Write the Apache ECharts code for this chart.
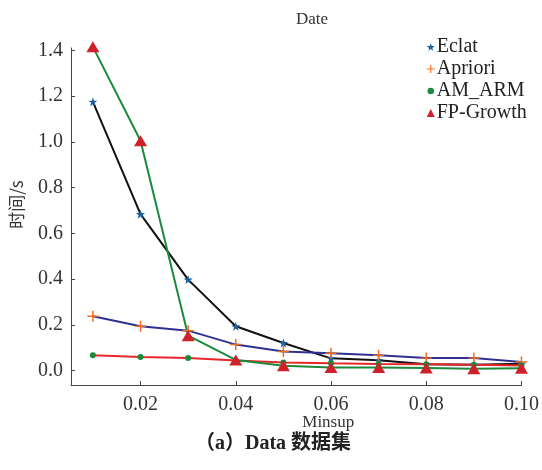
<!DOCTYPE html>
<html style="height: 100%">
<head>
<meta charset="utf-8">
<script src="https://cdn.jsdelivr.net/npm/echarts@6/dist/echarts.min.js"></script>
</head>
<body style="height: 100%; margin: 0">
<div id="container" style="width: 542px; height: 470px"></div>
<script type="text/javascript">
// data
var minsup = [0.01, 0.02, 0.03, 0.04, 0.05, 0.06, 0.07, 0.08, 0.09, 0.10];
var eclat = [1.175, 0.684, 0.398, 0.194, 0.121, 0.054, 0.046, 0.028, 0.026, 0.03];
var apriori = [0.238, 0.194, 0.175, 0.114, 0.084, 0.076, 0.067, 0.055, 0.055, 0.038];
var amArm = [0.067, 0.06, 0.055, 0.045, 0.036, 0.032, 0.029, 0.028, 0.026, 0.023];
var fpGrowth = [1.415, 1.005, 0.153, 0.047, 0.022, 0.014, 0.014, 0.012, 0.009, 0.011];
var xTicks = [0.02, 0.04, 0.06, 0.08, 0.10];
var yTicks = [0, 0.2, 0.4, 0.6, 0.8, 1.0, 1.2, 1.4];

var serif = '"Liberation Serif", "Times New Roman", serif';
var starPath = 'path://M0,-10L2.35,-3.24L9.51,-3.09L3.8,1.24L5.88,8.09L0,4L-5.88,8.09L-3.8,1.24L-9.51,-3.09L-2.35,-3.24Z';
var plusPath = 'path://M-0.8,-6L0.8,-6L0.8,-0.8L6,-0.8L6,0.8L0.8,0.8L0.8,6L-0.8,6L-0.8,0.8L-6,0.8L-6,-0.8L-0.8,-0.8Z';

function pairs(ys) {
	return minsup.map(function(x, i) {
		return [x, ys[i]];
	});
}

var dom = document.getElementById("container");
var myChart = echarts.init(dom);

var option = {
	backgroundColor: '#ffffff',
	animation: false,
	title: [{
		text: 'Date',
		left: 307,
		top: 6,
		textAlign: 'center',
		textStyle: { fontFamily: serif, fontSize: 17, fontWeight: 'normal', color: '#333' }
	}, {
		text: '（a）Data 数据集',
		left: 268,
		top: 429,
		textAlign: 'center',
		textStyle: { fontFamily: serif + ', "Noto Sans CJK SC"', fontSize: 20, fontWeight: 'bold', color: '#222' }
	}],
	legend: {
		orient: 'vertical',
		left: 421,
		top: 32,
		itemWidth: 8,
		itemHeight: 8,
		itemGap: 2,
		textStyle: { fontFamily: serif, fontSize: 20, color: '#222', padding: [0, 0, 0, -3] },
		data: [
			{ name: 'Eclat', icon: starPath },
			{ name: 'Apriori', icon: plusPath },
			{ name: 'AM_ARM', icon: 'circle', itemStyle: { borderWidth: 1.5, borderColor: '#fff' } },
			{ name: 'FP-Growth', icon: 'triangle', itemStyle: { borderWidth: 0 } }
		]
	},
	grid: { left: 71, right: 17, top: 48, bottom: 85 },
	xAxis: {
		type: 'value',
		min: 0.0054,
		max: 0.10,
		name: 'Minsup',
		nameLocation: 'middle',
		nameGap: 29,
		nameMoveOverlap: false,
		nameTextStyle: { fontFamily: serif, fontSize: 17, color: '#333', padding: [0, 0, 0, 64] },
		splitLine: { show: false },
		axisLine: { onZero: false, lineStyle: { color: '#444', width: 1 } },
		axisTick: { inside: true, length: 4, customValues: xTicks, lineStyle: { color: '#444' } },
		axisLabel: {
			customValues: xTicks,
			margin: 10,
			fontFamily: serif,
			fontSize: 20,
			color: '#333',
			formatter: function(v) { return v.toFixed(2); }
		}
	},
	yAxis: {
		type: 'value',
		min: -0.0625,
		max: 1.41,
		name: '时间/s',
		nameLocation: 'middle',
		nameGap: 46,
		nameRotate: 90,
		nameMoveOverlap: false,
		nameTextStyle: { fontFamily: '"Noto Sans CJK SC", sans-serif', fontSize: 17, color: '#333', padding: [0, 0, 0, 24] },
		splitLine: { show: false },
		axisLine: { show: true, onZero: false, lineStyle: { color: '#444', width: 1 } },
		axisTick: { show: true, inside: true, length: 4, customValues: yTicks, lineStyle: { color: '#444' } },
		axisLabel: {
			customValues: yTicks,
			margin: 8,
			fontFamily: serif,
			fontSize: 20,
			color: '#333',
			formatter: function(v) { return v.toFixed(1); }
		}
	},
	series: [{
		name: 'Eclat',
		type: 'line',
		clip: false,
		data: pairs(eclat),
		symbol: starPath,
		symbolSize: 9,
		lineStyle: { color: '#111', width: 2 },
		itemStyle: { color: '#1d5f9a' }
	}, {
		name: 'Apriori',
		type: 'line',
		clip: false,
		data: pairs(apriori),
		symbol: plusPath,
		symbolSize: 11,
		lineStyle: { color: '#2e3192', width: 2 },
		itemStyle: { color: '#f26b21' }
	}, {
		name: 'AM_ARM',
		type: 'line',
		clip: false,
		data: pairs(amArm),
		symbol: 'circle',
		symbolSize: 6,
		lineStyle: { color: '#e8262a', width: 2 },
		itemStyle: { color: '#1a8a3c' }
	}, {
		name: 'FP-Growth',
		type: 'line',
		clip: false,
		data: pairs(fpGrowth),
		symbol: 'triangle',
		symbolSize: [13, 11],
		lineStyle: { color: '#1b8a3c', width: 2 },
		itemStyle: { color: '#d0202a' }
	}]
};
myChart.setOption(option, true);
</script>
</body>
</html>
